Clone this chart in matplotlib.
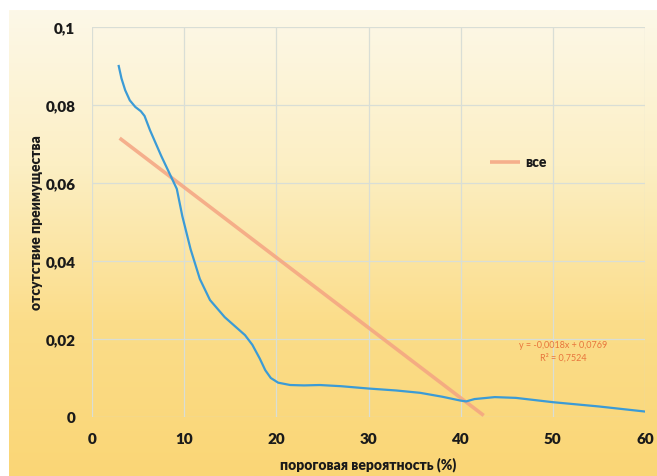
import matplotlib
matplotlib.use("Agg")
import matplotlib.pyplot as plt
import numpy as np
from matplotlib.colors import LinearSegmentedColormap

plt.rcParams['font.family'] = ['Lato', 'DejaVu Sans']

# ---- data ----
curve_x = [2.9, 3.2, 3.6, 4.1, 4.7, 5.3, 5.7, 6.3, 7.5, 8.7, 9.2, 9.8, 10.7, 11.7, 12.8,
           14.4, 16.6, 17.4, 18.2, 18.8, 19.4, 20.2, 21.5, 23.0, 24.7, 27.0, 30.0,
           33.0, 35.6, 38.0, 40.0, 40.6, 41.5, 43.7, 46.0, 50.0, 55.0, 60.0]
curve_y = [0.0900, 0.0868, 0.0838, 0.0812, 0.0795, 0.0784, 0.0772, 0.0735, 0.0670, 0.0610,
           0.0585, 0.0515, 0.0430, 0.0354, 0.0300, 0.0256, 0.0210, 0.0185, 0.0150,
           0.0120, 0.0100, 0.0088, 0.0082, 0.0081, 0.0082, 0.0079, 0.0073, 0.0068,
           0.0062, 0.0052, 0.0042, 0.0040, 0.0046, 0.0051, 0.0049, 0.0038, 0.0027,
           0.0014]
trend_x = [3.0, 42.5]
trend_y = [0.0715, 0.0004]
legend_label = "все"
eq_text = "y = -0,0018x + 0,0769"
r2_text = "R² = 0,7524"
x_ticks = [0, 10, 20, 30, 40, 50, 60]
y_ticks = [0, 0.02, 0.04, 0.06, 0.08, 0.1]
y_tick_labels = ["0", "0,02", "0,04", "0,06", "0,08", "0,1"]
x_label = "пороговая вероятность (%)"
y_label = "отсутствие преимущества"

W, H = 657, 477
fig = plt.figure(figsize=(W / 100, H / 100), dpi=100)
fig.patch.set_facecolor("white")

# gradient background panel
bg = fig.add_axes([9 / W, 0, 1 - 9 / W, 1 - 11 / H])
cmap = LinearSegmentedColormap.from_list("g", ["#FDF8E8", "#FCEFC4", "#FBDD8A", "#FAD676"])
grad = np.linspace(0, 1, 256).reshape(-1, 1)
bg.imshow(grad, aspect="auto", cmap=cmap, extent=[0, 1, 0, 1], origin="upper")
bg.set_axis_off()

ax = fig.add_axes([92 / W, 1 - 418 / H, (645 - 92) / W, (418 - 28) / H])
ax.set_facecolor("none")
ax.set_xlim(0, 60)
ax.set_ylim(0, 0.1)
ax.set_xticks(x_ticks)
ax.set_yticks(y_ticks)
ax.set_yticklabels(y_tick_labels)
ax.grid(True, color="#D9DED6", linewidth=0.9)
ax.set_axisbelow(True)
for s in ax.spines.values():
    s.set_visible(False)
ax.tick_params(length=0, labelsize=11, labelcolor="#1a1a1a")
for lab in ax.get_xticklabels() + ax.get_yticklabels():
    lab.set_fontweight("heavy")
ax.tick_params(axis="y", pad=12)
ax.tick_params(axis="x", pad=11)

ax.plot(trend_x, trend_y, color="#F4A482", linewidth=2.6, alpha=0.85,
        solid_capstyle="butt", zorder=2)
ax.plot(curve_x, curve_y, color="#3B9BD6", linewidth=1.6, zorder=3)

# legend entry
ax.plot([43.2, 46.4], [0.0654, 0.0654], color="#F4A482", linewidth=2.6, alpha=0.85,
        solid_capstyle="butt")
ax.text(47.0, 0.0654, legend_label, fontsize=10, fontweight="heavy", color="#1a1a1a",
        va="center", ha="left")

ax.text(51.1, 0.0185, eq_text, fontsize=6.5, color="#E8753C", ha="center", va="center")
ax.text(51.1, 0.0154, r2_text, fontsize=6.5, color="#E8753C", ha="center", va="center")

ax.set_xlabel(x_label, fontsize=10, fontweight="heavy", color="#1a1a1a", labelpad=8)
ax.set_ylabel(y_label, fontsize=10, fontweight="heavy", color="#1a1a1a")
ax.yaxis.set_label_coords(-0.088, 0.5)

fig.savefig("out.png", dpi=100)
